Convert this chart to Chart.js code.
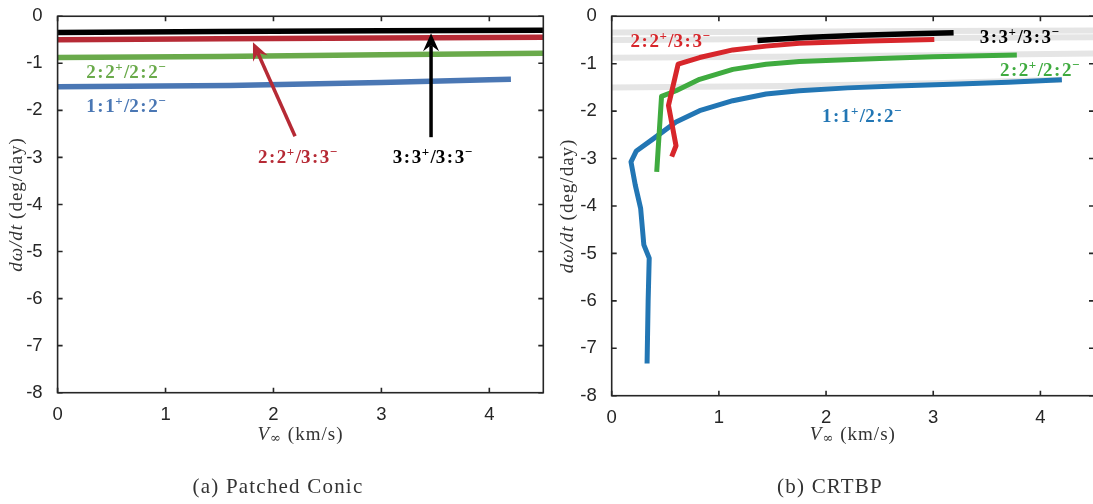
<!DOCTYPE html>
<html>
<head>
<meta charset="utf-8">
<script src="https://cdn.jsdelivr.net/npm/chart.js@4"></script>
<style>
  html, body { margin: 0; padding: 0; background: #fff; overflow: hidden; width: 1093px; height: 504px; }
  canvas { position: absolute; top: 0; }
  #pc { left: 0; }
  #cr { left: 550px; }
</style>
</head>
<body>
<canvas id="pc" width="550" height="504"></canvas>
<canvas id="cr" width="550" height="504"></canvas>
<script>
// apse rotation rate dω/dt (deg/day) against V∞ (km/s)

// patched conic
const pcV33 = [0, 1.5, 3, 4.5];
const pcRate33 = [-0.345, -0.325, -0.31, -0.3];
const pcV23 = [0, 1.5, 3, 4.5];
const pcRate23 = [-0.5, -0.48, -0.46, -0.445];
const pcV22 = [0, 1.5, 3, 4.5];
const pcRate22 = [-0.875, -0.855, -0.82, -0.785];
const pcV11 = [0, 1.6, 3, 4, 4.2];
const pcRate11 = [-1.5, -1.47, -1.41, -1.35, -1.34];

// CRTBP
const crV11 = [0.33, 0.34, 0.35, 0.30, 0.27, 0.22, 0.18, 0.23, 0.39, 0.6, 0.82, 1.13, 1.44, 1.75, 2.2, 2.65, 3.24, 3.7, 4.2];
const crRate11 = [-7.32, -6.0, -5.1, -4.82, -4.05, -3.56, -3.07, -2.84, -2.58, -2.23, -1.99, -1.78, -1.64, -1.57, -1.51, -1.47, -1.43, -1.39, -1.34];
const crV22 = [0.42, 0.465, 0.6, 0.82, 1.13, 1.44, 1.75, 2.5, 3.0, 3.78];
const crRate22 = [-3.28, -1.69, -1.57, -1.33, -1.12, -1.01, -0.956, -0.89, -0.855, -0.816];
const crV23 = [0.56, 0.6, 0.53, 0.62, 0.82, 1.13, 1.44, 1.75, 2.4, 3.01];
const crRate23 = [-2.96, -2.73, -1.88, -1.01, -0.87, -0.71, -0.63, -0.57, -0.52, -0.49];
const crV33 = [1.36, 1.8, 2.32, 2.8, 3.19];
const crRate33 = [-0.51, -0.45, -0.40, -0.37, -0.35];

const xTicks = [0, 1, 2, 3, 4];
const yTicks = [0, -1, -2, -3, -4, -5, -6, -7, -8];

function pts(xs, ys) {
  return xs.map((x, i) => ({ x: x, y: ys[i] }));
}

function line(xs, ys, color, width) {
  return {
    data: pts(xs, ys),
    showLine: true,
    borderColor: color,
    borderWidth: width,
    borderJoinStyle: "round",
    pointRadius: 0,
    tension: 0,
  };
}

const INK = "#262626";

// box with inward tick marks on all four sides
const frame = {
  id: "frame",
  afterDraw(chart) {
    const ctx = chart.ctx;
    const a = chart.chartArea;
    const sx = chart.scales.x;
    const sy = chart.scales.y;
    const len = 5;
    ctx.save();
    ctx.strokeStyle = INK;
    ctx.lineWidth = 1.6;
    ctx.strokeRect(a.left, a.top, a.right - a.left, a.bottom - a.top);
    ctx.beginPath();
    xTicks.forEach((v) => {
      const px = sx.getPixelForValue(v);
      ctx.moveTo(px, a.bottom); ctx.lineTo(px, a.bottom - len);
      ctx.moveTo(px, a.top); ctx.lineTo(px, a.top + len);
    });
    yTicks.forEach((v) => {
      const py = sy.getPixelForValue(v);
      ctx.moveTo(a.left, py); ctx.lineTo(a.left + len, py);
      ctx.moveTo(a.right, py); ctx.lineTo(a.right - len, py);
    });
    ctx.stroke();
    ctx.restore();
  },
};

// "2:2+/3:3-" style label, bold with raised signs
function drawRatio(ctx, text, cx, cy, color) {
  const base = 'bold 19px "Liberation Serif"';
  const sup = 'bold 13px "Liberation Serif"';
  const parts = [];
  for (const ch of text) {
    if (ch === "+" || ch === "-") parts.push({ t: ch === "+" ? "+" : "\u2212", f: sup, dy: -7, l: 0.5, r: 1.5 });
    else if (ch === ":") parts.push({ t: ":", f: base, dy: 0, l: 1.5, r: 1.5 });
    else parts.push({ t: ch, f: base, dy: 0, l: 0, r: 0 });
  }
  let w = 0;
  parts.forEach((p) => {
    ctx.font = p.f;
    p.w = ctx.measureText(p.t).width;
    w += p.l + p.w + p.r;
  });
  let x = cx - w / 2;
  ctx.fillStyle = color;
  ctx.textBaseline = "alphabetic";
  ctx.textAlign = "left";
  parts.forEach((p) => {
    ctx.font = p.f;
    x += p.l;
    ctx.fillText(p.t, x, cy + 6.5 + p.dy);
    x += p.w + p.r;
  });
}

function drawArrow(ctx, x0, y0, x1, y1, color) {
  const ang = Math.atan2(y1 - y0, x1 - x0);
  const head = 18, half = 8, back = 12;
  ctx.save();
  ctx.strokeStyle = color;
  ctx.fillStyle = color;
  ctx.lineWidth = 3.5;
  ctx.beginPath();
  ctx.moveTo(x0, y0);
  ctx.lineTo(x1 - Math.cos(ang) * back, y1 - Math.sin(ang) * back);
  ctx.stroke();
  ctx.translate(x1, y1);
  ctx.rotate(ang);
  ctx.beginPath();
  ctx.moveTo(0, 0);
  ctx.lineTo(-head, -half);
  ctx.lineTo(-back, 0);
  ctx.lineTo(-head, half);
  ctx.closePath();
  ctx.fill();
  ctx.restore();
}

// mixed italic / upright text run
function drawRun(ctx, runs, cx, cy) {
  let w = 0;
  runs.forEach((r) => {
    ctx.font = r.f;
    r.w = ctx.measureText(r.t).width;
    w += r.w + (r.gap || 0);
  });
  let x = cx - w / 2;
  runs.forEach((r) => {
    ctx.font = r.f;
    ctx.fillText(r.t, x, cy + (r.dy || 0));
    x += r.w + (r.gap || 0);
  });
}

const notes = {
  id: "notes",
  afterDatasetsDraw(chart, args, opts) {
    const ctx = chart.ctx;
    const sx = chart.scales.x;
    const sy = chart.scales.y;
    ctx.save();
    (opts.arrows || []).forEach((a) => {
      drawArrow(ctx, sx.getPixelForValue(a.from[0]), sy.getPixelForValue(a.from[1]),
        sx.getPixelForValue(a.to[0]), sy.getPixelForValue(a.to[1]), a.color);
    });
    (opts.labels || []).forEach((l) => {
      drawRatio(ctx, l.text, sx.getPixelForValue(l.x), sy.getPixelForValue(l.y), l.color);
    });
    ctx.restore();
  },
  afterDraw(chart, args, opts) {
    const ctx = chart.ctx;
    const a = chart.chartArea;
    ctx.save();
    ctx.fillStyle = "#333";
    ctx.textBaseline = "middle";
    ctx.textAlign = "left";
    const it = 'italic 19px "Liberation Serif"';
    const rm = '19px "Liberation Serif"';
    // y title
    ctx.save();
    ctx.translate(opts.yTitleX, (a.top + a.bottom) / 2);
    ctx.rotate(-Math.PI / 2);
    ctx.letterSpacing = "1px";
    drawRun(ctx, [{ t: "d\u03c9/dt", f: it, gap: 5 }, { t: "(deg/day)", f: rm }], 0, 0);
    ctx.restore();
    // x title
    ctx.letterSpacing = "1px";
    drawRun(ctx, [
      { t: "V", f: it, gap: 0 },
      { t: "\u221e", f: '13px "DejaVu Serif"', dy: 4, gap: 6 },
      { t: "(km/s)", f: rm },
    ], (a.left + a.right) / 2, 435);
    // caption
    ctx.letterSpacing = "1.2px";
    drawRun(ctx, [{ t: opts.caption, f: '21px "Liberation Serif"' }], opts.captionX, 487);
    ctx.restore();
  },
};

function options(box, noteOpts) {
  return {
    responsive: false,
    animation: false,
    events: [],
    layout: {
      autoPadding: false,
      padding: { top: box.top, right: box.right, left: 0, bottom: 0 },
    },
    plugins: {
      legend: { display: false },
      tooltip: { enabled: false },
      notes: noteOpts,
    },
    scales: {
      x: {
        type: "linear",
        min: 0,
        max: 4.5,
        afterFit(s) { s.height = box.xh; },
        grid: { display: false },
        border: { display: false },
        ticks: {
          stepSize: 1,
          includeBounds: false,
          padding: 5,
          color: INK,
          font: { family: "Liberation Sans", size: 18.5, lineHeight: 1 },
          callback: (v) => String(v),
        },
      },
      y: {
        type: "linear",
        min: -8,
        max: 0,
        afterFit(s) { s.width = box.yw; },
        grid: { display: false },
        border: { display: false },
        ticks: {
          stepSize: 1,
          padding: 7,
          color: INK,
          font: { family: "Liberation Sans", size: 18.5, lineHeight: 1 },
          callback: (v) => String(v),
        },
      },
    },
  };
}

new Chart(document.getElementById("pc").getContext("2d"), {
  type: "scatter",
  data: {
    datasets: [
      line(pcV33, pcRate33, "#000000", 5.5),
      line(pcV23, pcRate23, "#b62a35", 5.5),
      line(pcV22, pcRate22, "#6aaa4b", 5.5),
      line(pcV11, pcRate11, "#4a77b4", 5.5),
    ],
  },
  options: options({ top: 9.5, right: 6.7, yw: 57.6, xh: 111.3 }, {
    yTitleX: 17,
    caption: "(a) Patched Conic",
    captionX: 278,
    arrows: [
      { from: [2.2, -2.55], to: [1.81, -0.55], color: "#b62a35" },
      { from: [3.46, -2.57], to: [3.46, -0.36], color: "#000000" },
    ],
    labels: [
      { text: "2:2+/2:2-", x: 0.64, y: -1.17, color: "#6aaa4b" },
      { text: "1:1+/2:2-", x: 0.64, y: -1.89, color: "#4a77b4" },
      { text: "2:2+/3:3-", x: 2.23, y: -2.97, color: "#b62a35" },
      { text: "3:3+/3:3-", x: 3.48, y: -2.97, color: "#000000" },
    ],
  }),
  plugins: [notes, frame],
});

const GREY = "#e5e5e5";
new Chart(document.getElementById("cr").getContext("2d"), {
  type: "scatter",
  data: {
    datasets: [
      line(crV33, crRate33, "#000000", 5.5),
      line(crV23, crRate23, "#d7262b", 5),
      line(crV22, crRate22, "#3fab3f", 5),
      line(crV11, crRate11, "#2276b4", 5),
      line(pcV33, pcRate33, GREY, 6),
      line(pcV23, pcRate23, GREY, 6),
      line(pcV22, pcRate22, GREY, 6),
      line(pcV11, pcRate11, GREY, 6),
    ],
  },
  options: options({ top: 13.3, right: 6, yw: 61.7, xh: 108.3 }, {
    yTitleX: 18,
    caption: "(b) CRTBP",
    captionX: 280,
    labels: [
      { text: "2:2+/3:3-", x: 0.553, y: -0.52, color: "#d7262b" },
      { text: "3:3+/3:3-", x: 3.81, y: -0.42, color: "#000000" },
      { text: "2:2+/2:2-", x: 4.0, y: -1.12, color: "#3fab3f" },
      { text: "1:1+/2:2-", x: 2.34, y: -2.09, color: "#2276b4" },
    ],
  }),
  plugins: [notes, frame],
});
</script>
</body>
</html>
